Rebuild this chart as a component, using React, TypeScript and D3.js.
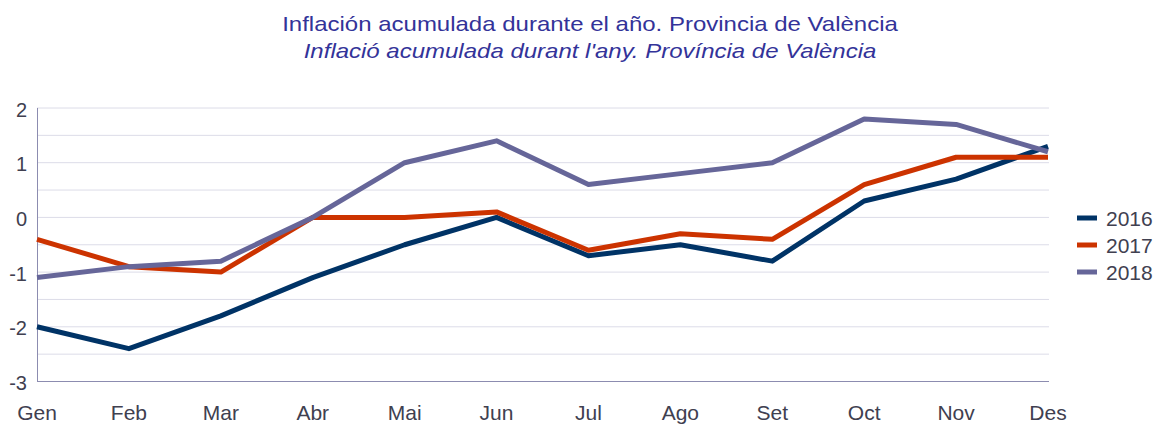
import React from "react";
import * as d3 from "d3";

const months = ["Gen", "Feb", "Mar", "Abr", "Mai", "Jun", "Jul", "Ago", "Set", "Oct", "Nov", "Des"];
const s2016 = [-2.0, -2.4, -1.8, -1.1, -0.5, 0.0, -0.7, -0.5, -0.8, 0.3, 0.7, 1.3];
const s2017 = [-0.4, -0.9, -1.0, 0.0, 0.0, 0.1, -0.6, -0.3, -0.4, 0.6, 1.1, 1.1];
const s2018 = [-1.1, -0.9, -0.8, 0.0, 1.0, 1.4, 0.6, 0.8, 1.0, 1.8, 1.7, 1.2];
const yTicks = [2, 1, 0, -1, -2, -3];
const gridValues = [2, 1.5, 1, 0.5, 0, -0.5, -1, -1.5, -2, -2.5, -3];

const series = [
  { name: "2016", values: s2016, color: "#003366" },
  { name: "2017", values: s2017, color: "#CC3300" },
  { name: "2018", values: s2018, color: "#666699" },
];

export default function App() {
  const W = 1157, H = 424;
  const x = d3.scalePoint<string>().domain(months).range([37, 1048]);
  const y = d3.scaleLinear().domain([-3, 2]).range([381.5, 108]);
  const line = d3
    .line<number>()
    .x((_, i) => x(months[i]) as number)
    .y((d) => y(d));
  const font = "'Liberation Sans', Arial, sans-serif";
  const textColor = "#404050";
  return (
    <svg width={W} height={H} style={{ position: "absolute", left: 0, top: 0 }} fontFamily={font}>
      <g transform="translate(590, 31) scale(1.2, 1)">
        <text x={0} y={0} textAnchor="middle" fontSize={20} fill="#333399">
          Inflación acumulada durante el año. Provincia de València
        </text>
      </g>
      <g transform="translate(590, 58) scale(1.2, 1)">
        <text x={0} y={0} textAnchor="middle" fontSize={20} fill="#333399" fontStyle="italic">
          Inflació acumulada durant l'any. Província de València
        </text>
      </g>
      {gridValues.map((g) => (
        <line key={g} x1={37} x2={1049} y1={y(g)} y2={y(g)} stroke="#dcdce8" strokeWidth={1} />
      ))}
      <line x1={37.5} x2={37.5} y1={y(2)} y2={y(-3)} stroke="#8c8cb0" strokeWidth={1} />
      <line x1={37} x2={1049} y1={y(-3)} y2={y(-3)} stroke="#8c8cb0" strokeWidth={1} />
      {yTicks.map((t) => (
        <text key={t} x={27} y={y(t) + 8.5} textAnchor="end" fontSize={20} fill={textColor}>
          {t}
        </text>
      ))}
      {months.map((m) => (
        <text key={m} x={x(m)} y={420} textAnchor="middle" fontSize={21} fill={textColor}>
          {m}
        </text>
      ))}
      {series.map((s) => (
        <path
          key={s.name}
          d={line(s.values) || ""}
          fill="none"
          stroke={s.color}
          strokeWidth={5}
          strokeLinejoin="round"
        />
      ))}
      {series.map((s, i) => (
        <g key={s.name} transform={`translate(1077, ${218 + i * 27})`}>
          <line x1={0} x2={20} y1={0} y2={0} stroke={s.color} strokeWidth={5} />
          <text x={29} y={7.5} fontSize={21} fill={textColor}>
            {s.name}
          </text>
        </g>
      ))}
    </svg>
  );
}
